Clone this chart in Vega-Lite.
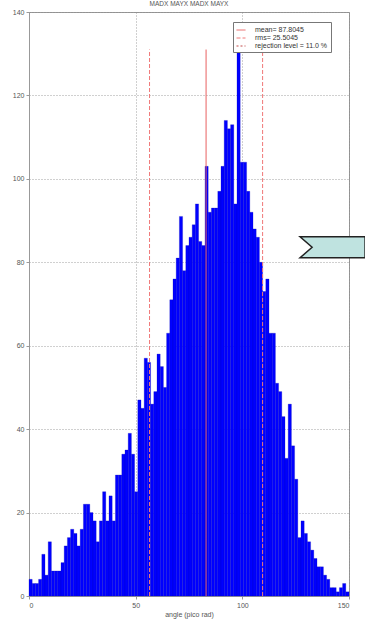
{
  "$schema": "https://vega.github.io/schema/vega-lite/v6.json",
  "autosize": "none",
  "width": 320,
  "height": 584,
  "padding": {"left": 29, "top": 12, "right": 16, "bottom": 23},
  "background": "white",
  "title": {"text": "MADX MAYX MADX MAYX", "fontSize": 6.5, "font": "Liberation Sans", "fontWeight": "normal", "color": "#555", "offset": 1},
  "config": {
    "view": {"stroke": "#999", "strokeWidth": 1},
    "axis": {"labelFont": "Liberation Sans", "titleFont": "Liberation Sans", "labelFontSize": 7, "titleFontSize": 7, "titleFontWeight": "normal", "labelColor": "#555", "titleColor": "#555", "domainColor": "#999", "tickColor": "#999", "tickSize": 3, "gridColor": "#888", "gridDash": [1, 2], "gridWidth": 0.8},
    "legend": {"orient": "none", "legendX": 204, "legendY": 10, "padding": 3, "strokeColor": "#777", "fillColor": "white", "labelFont": "Liberation Sans", "labelFontSize": 7, "labelColor": "#333", "symbolType": "stroke", "symbolSize": 81, "symbolStrokeWidth": 1, "rowPadding": 0, "labelOffset": 9, "labelLimit": 120}
  },
  "datasets": {
    "hist": [
      {"lo": 0, "hi": 1.5, "count": 4},
      {"lo": 1.5, "hi": 3, "count": 3},
      {"lo": 3, "hi": 4.5, "count": 3},
      {"lo": 4.5, "hi": 6, "count": 4},
      {"lo": 6, "hi": 7.5, "count": 10},
      {"lo": 7.5, "hi": 9, "count": 5},
      {"lo": 9, "hi": 10.5, "count": 13},
      {"lo": 10.5, "hi": 12, "count": 6},
      {"lo": 12, "hi": 13.5, "count": 6},
      {"lo": 13.5, "hi": 15, "count": 6},
      {"lo": 15, "hi": 16.5, "count": 8},
      {"lo": 16.5, "hi": 18, "count": 12},
      {"lo": 18, "hi": 19.5, "count": 14},
      {"lo": 19.5, "hi": 21, "count": 16},
      {"lo": 21, "hi": 22.5, "count": 15},
      {"lo": 22.5, "hi": 24, "count": 12},
      {"lo": 24, "hi": 25.5, "count": 16},
      {"lo": 25.5, "hi": 27, "count": 22},
      {"lo": 27, "hi": 28.5, "count": 22},
      {"lo": 28.5, "hi": 30, "count": 20},
      {"lo": 30, "hi": 31.5, "count": 18},
      {"lo": 31.5, "hi": 33, "count": 13},
      {"lo": 33, "hi": 34.5, "count": 18},
      {"lo": 34.5, "hi": 36, "count": 25},
      {"lo": 36, "hi": 37.5, "count": 18},
      {"lo": 37.5, "hi": 39, "count": 24},
      {"lo": 39, "hi": 40.5, "count": 18},
      {"lo": 40.5, "hi": 42, "count": 29},
      {"lo": 42, "hi": 43.5, "count": 29},
      {"lo": 43.5, "hi": 45, "count": 34},
      {"lo": 45, "hi": 46.5, "count": 35},
      {"lo": 46.5, "hi": 48, "count": 39},
      {"lo": 48, "hi": 49.5, "count": 34},
      {"lo": 49.5, "hi": 51, "count": 25},
      {"lo": 51, "hi": 52.5, "count": 47},
      {"lo": 52.5, "hi": 54, "count": 45},
      {"lo": 54, "hi": 55.5, "count": 57},
      {"lo": 55.5, "hi": 57, "count": 56},
      {"lo": 57, "hi": 58.5, "count": 46},
      {"lo": 58.5, "hi": 60, "count": 49},
      {"lo": 60, "hi": 61.5, "count": 58},
      {"lo": 61.5, "hi": 63, "count": 55},
      {"lo": 63, "hi": 64.5, "count": 50},
      {"lo": 64.5, "hi": 66, "count": 63},
      {"lo": 66, "hi": 67.5, "count": 71},
      {"lo": 67.5, "hi": 69, "count": 76},
      {"lo": 69, "hi": 70.5, "count": 81},
      {"lo": 70.5, "hi": 72, "count": 91},
      {"lo": 72, "hi": 73.5, "count": 78},
      {"lo": 73.5, "hi": 75, "count": 84},
      {"lo": 75, "hi": 76.5, "count": 86},
      {"lo": 76.5, "hi": 78, "count": 89},
      {"lo": 78, "hi": 79.5, "count": 94},
      {"lo": 79.5, "hi": 81, "count": 85},
      {"lo": 81, "hi": 82.5, "count": 84},
      {"lo": 82.5, "hi": 84, "count": 103},
      {"lo": 84, "hi": 85.5, "count": 92},
      {"lo": 85.5, "hi": 87, "count": 93},
      {"lo": 87, "hi": 88.5, "count": 93},
      {"lo": 88.5, "hi": 90, "count": 97},
      {"lo": 90, "hi": 91.5, "count": 103},
      {"lo": 91.5, "hi": 93, "count": 114},
      {"lo": 93, "hi": 94.5, "count": 112},
      {"lo": 94.5, "hi": 96, "count": 113},
      {"lo": 96, "hi": 97.5, "count": 94},
      {"lo": 97.5, "hi": 99, "count": 133},
      {"lo": 99, "hi": 100.5, "count": 104},
      {"lo": 100.5, "hi": 102, "count": 104},
      {"lo": 102, "hi": 103.5, "count": 97},
      {"lo": 103.5, "hi": 105, "count": 92},
      {"lo": 105, "hi": 106.5, "count": 88},
      {"lo": 106.5, "hi": 108, "count": 86},
      {"lo": 108, "hi": 109.5, "count": 80},
      {"lo": 109.5, "hi": 111, "count": 73},
      {"lo": 111, "hi": 112.5, "count": 76},
      {"lo": 112.5, "hi": 114, "count": 63},
      {"lo": 114, "hi": 115.5, "count": 63},
      {"lo": 115.5, "hi": 117, "count": 51},
      {"lo": 117, "hi": 118.5, "count": 49},
      {"lo": 118.5, "hi": 120, "count": 43},
      {"lo": 120, "hi": 121.5, "count": 33},
      {"lo": 121.5, "hi": 123, "count": 46},
      {"lo": 123, "hi": 124.5, "count": 36},
      {"lo": 124.5, "hi": 126, "count": 28},
      {"lo": 126, "hi": 127.5, "count": 14},
      {"lo": 127.5, "hi": 129, "count": 18},
      {"lo": 129, "hi": 130.5, "count": 15},
      {"lo": 130.5, "hi": 132, "count": 13},
      {"lo": 132, "hi": 133.5, "count": 11},
      {"lo": 133.5, "hi": 135, "count": 9},
      {"lo": 135, "hi": 136.5, "count": 7},
      {"lo": 136.5, "hi": 138, "count": 7},
      {"lo": 138, "hi": 139.5, "count": 5},
      {"lo": 139.5, "hi": 141, "count": 4},
      {"lo": 141, "hi": 142.5, "count": 2},
      {"lo": 142.5, "hi": 144, "count": 2},
      {"lo": 144, "hi": 145.5, "count": 1},
      {"lo": 145.5, "hi": 147, "count": 2},
      {"lo": 147, "hi": 148.5, "count": 3},
      {"lo": 148.5, "hi": 150, "count": 1}
    ],
    "stats": [
      {"pos": 56.5, "base": 0, "top": 131, "stat": "rms= 25.5045"},
      {"pos": 83, "base": 0, "top": 131, "stat": "mean= 87.8045"},
      {"pos": 109.5, "base": 0, "top": 131, "stat": "rms= 25.5045"}
    ],
    "note": [
      {"px": 142.3, "py": 83.6}
    ]
  },
  "layer": [
    {
      "data": {"name": "hist"},
      "mark": {"type": "rect", "fill": "#0000ff", "stroke": "#0000b0", "strokeWidth": 0.25},
      "encoding": {
        "x": {"field": "lo", "type": "quantitative", "scale": {"domain": [0, 150], "nice": false}, "axis": {"values": [0, 50, 100, 150], "title": "angle (pico rad)", "titlePadding": 2, "labelPadding": 2}},
        "x2": {"field": "hi"},
        "y": {"field": "count", "type": "quantitative", "scale": {"domain": [0, 140], "nice": false}, "axis": {"values": [0, 20, 40, 60, 80, 100, 120, 140], "title": null, "labelPadding": 2}},
        "y2": {"datum": 0}
      }
    },
    {
      "data": {"name": "stats"},
      "mark": {"type": "rule", "strokeWidth": 1},
      "encoding": {
        "x": {"field": "pos", "type": "quantitative"},
        "y": {"field": "base", "type": "quantitative"},
        "y2": {"field": "top"},
        "color": {"field": "stat", "type": "nominal", "scale": {"domain": ["mean= 87.8045", "rms= 25.5045", "rejection level = 11.0 %"], "range": ["#e86060", "#f07878", "#c04848"]}, "legend": {"title": null}},
        "strokeDash": {"field": "stat", "type": "nominal", "scale": {"domain": ["mean= 87.8045", "rms= 25.5045", "rejection level = 11.0 %"], "range": [[1, 0], [4, 2], [2, 2]]}, "legend": {"title": null}}
      }
    },
    {
      "data": {"name": "note"},
      "mark": {"type": "point", "shape": "M -1 -0.323 L 1 -0.323 L 1 0.323 L -1 0.323 L -0.63 0 Z", "size": 4225, "filled": true, "fill": "#bfe3e0", "stroke": "#222", "strokeWidth": 1.5, "opacity": 1, "clip": false},
      "encoding": {
        "x": {"field": "px", "type": "quantitative"},
        "y": {"field": "py", "type": "quantitative"}
      }
    }
  ]
}
